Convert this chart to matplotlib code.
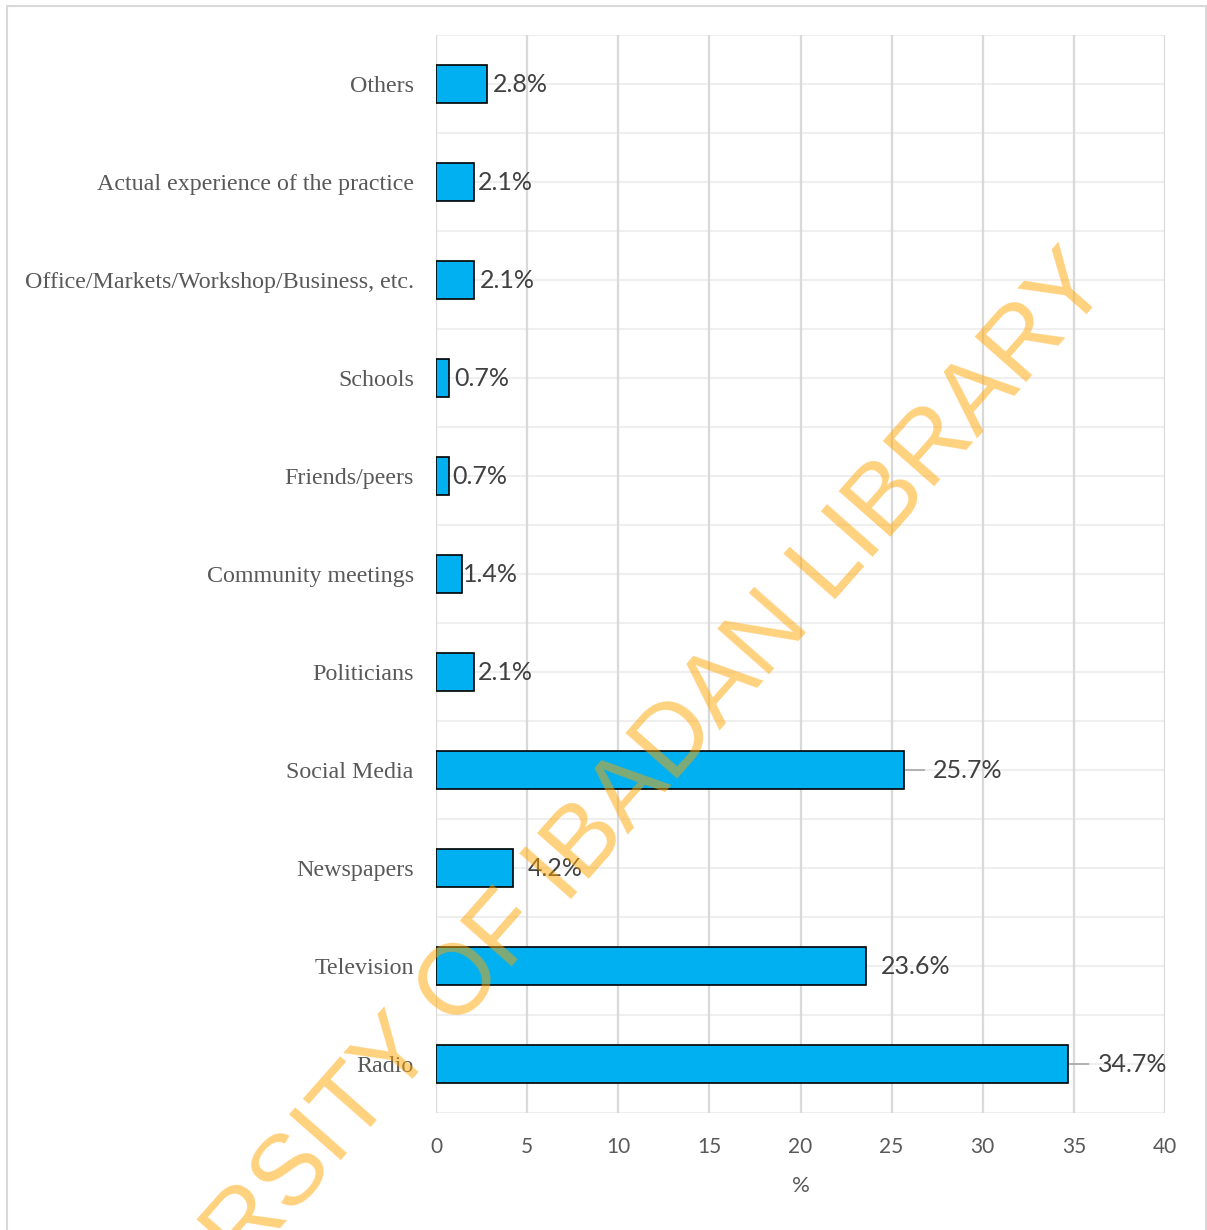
import matplotlib
matplotlib.use("Agg")
import matplotlib.pyplot as plt
from matplotlib.patches import Rectangle

# sources of information, bottom to top
sources = ["Radio", "Television", "Newspapers", "Social Media", "Politicians",
           "Community meetings", "Friends/peers", "Schools",
           "Office/Markets/Workshop/Business, etc.",
           "Actual experience of the practice", "Others"]
percent = [34.7, 23.6, 4.2, 25.7, 2.1, 1.4, 0.7, 0.7, 2.1, 2.1, 2.8]
xticks = [0, 5, 10, 15, 20, 25, 30, 35, 40]

# gap (px) between bar end and its value label; leader line for the long ones
label_gap = [30, 15, 15, 28, 4, 1, 3, 5, 6, 4, 6]
leader = [True, False, False, True, False, False, False, False, False, False, False]

W, H = 1207, 1230
fig = plt.figure(figsize=(W / 100, H / 100), dpi=100)
ax = fig.add_axes([436 / W, 1 - 1113 / H, (1165 - 436) / W, (1113 - 35) / H])

grey = "#595959"
pos = list(range(len(sources)))

# light horizontal lines at band edges and centres
for k in range(len(sources) + 1):
    ax.axhline(k - 0.5, color="#EFEFEF", lw=1.5, zorder=0)
for k in pos:
    ax.axhline(k, color="#EFEFEF", lw=1.5, zorder=0)
for t in xticks:
    ax.axvline(t, color="#D9D9D9", lw=1.6, zorder=0.5)

ax.barh(pos, percent, height=0.39, color="#00B0F0", edgecolor="black",
        linewidth=1.2, zorder=2)

for y, v, g, ld in zip(pos, percent, label_gap, leader):
    if ld:
        ax.annotate("", xy=(v, y), xytext=(20, 0), textcoords="offset pixels",
                    arrowprops=dict(arrowstyle="-", color="#A6A6A6", lw=1.2,
                                    shrinkA=0, shrinkB=1), zorder=3)
    ax.annotate(f"{v:.1f}%", xy=(v, y), xytext=(g, 0), textcoords="offset pixels",
                ha="left", va="center", fontsize=18, family="Lato",
                color="#404040", zorder=3)

ax.set_xlim(0, 40)
ax.set_ylim(-0.5, len(sources) - 0.5)
ax.set_xticks(xticks)
ax.set_yticks(pos)
ax.set_yticklabels(sources, family="Liberation Serif", fontsize=17.3, color=grey)
for lab in ax.get_xticklabels():
    lab.set_family("Lato")
    lab.set_fontsize(15)
    lab.set_color(grey)
ax.tick_params(axis="both", length=0)
ax.tick_params(axis="y", pad=16)
ax.tick_params(axis="x", pad=17)
ax.set_xlabel("%", family="Lato", fontsize=16, color=grey, labelpad=14)
for s in ax.spines.values():
    s.set_visible(False)

# outer frame
fig.patches.append(Rectangle((7 / W, -0.05), (1206 - 7) / W, 1.05 - 6 / H,
                             transform=fig.transFigure, fill=False,
                             edgecolor="#D9D9D9", lw=1.5))

fig.text(557 / W, 1 - 876 / H, "UNIVERSITY OF IBADAN LIBRARY",
         rotation=48.6, rotation_mode="anchor", ha="center", va="center",
         fontsize=72, family="Liberation Sans", color="#FFA500", alpha=0.5,
         zorder=10)

fig.savefig("out.png", dpi=100)
